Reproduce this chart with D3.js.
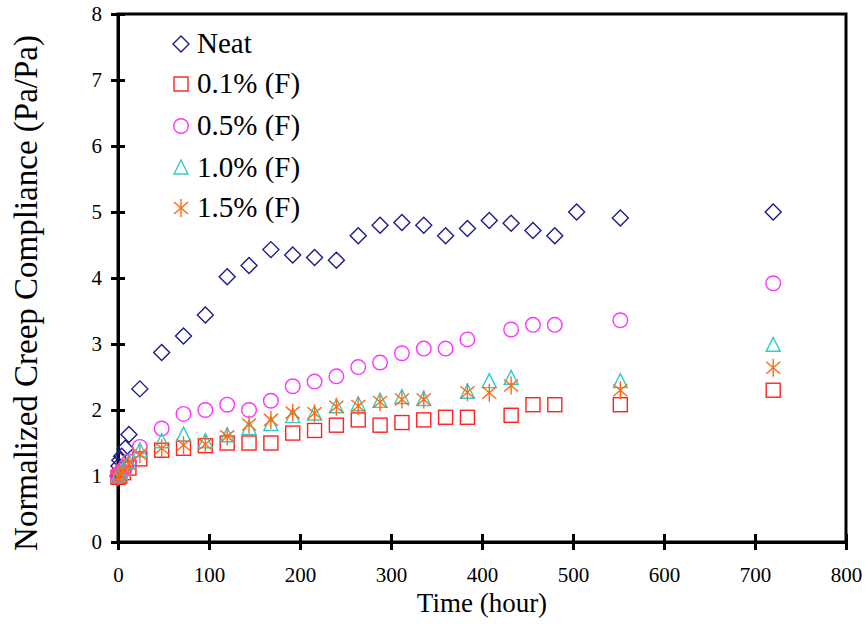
<!DOCTYPE html>
<html><head><meta charset="utf-8">
<script src="https://cdn.jsdelivr.net/npm/d3@7"></script>
<style>body{margin:0;background:#fff}svg{display:block}</style>
</head><body>
<script>
// Data
const neatT = [0,1,2,4,8,12,24,48,72,96,120,144,168,192,216,240,264,288,312,336,360,384,408,432,456,480,504,552,720];
const neatV = [1.0,1.15,1.24,1.3,1.42,1.63,2.32,2.87,3.12,3.44,4.02,4.19,4.43,4.35,4.31,4.27,4.64,4.80,4.84,4.80,4.64,4.75,4.87,4.83,4.72,4.64,5.0,4.91,5.0];
const f01T = [0,2,6,12,24,48,72,96,120,144,168,192,216,240,264,288,312,336,360,384,432,456,480,552,720];
const f01V = [0.98,1.0,1.05,1.12,1.26,1.39,1.42,1.46,1.50,1.50,1.50,1.65,1.69,1.77,1.85,1.77,1.81,1.85,1.89,1.89,1.92,2.08,2.08,2.08,2.30];
const f05T = [0,2,4,8,12,24,48,72,96,120,144,168,192,216,240,264,288,312,336,360,384,432,456,480,552,720];
const f05V = [1.0,1.04,1.08,1.14,1.22,1.44,1.72,1.94,2.0,2.08,2.0,2.14,2.36,2.43,2.51,2.65,2.72,2.86,2.93,2.93,3.07,3.22,3.29,3.29,3.36,3.92];
const f10T = [0,2,6,12,24,48,72,96,120,144,168,192,216,240,264,288,312,336,384,408,432,552,720];
const f10V = [1.0,1.04,1.1,1.2,1.38,1.52,1.62,1.52,1.61,1.72,1.78,1.90,1.94,2.05,2.08,2.13,2.19,2.16,2.27,2.43,2.48,2.43,2.98];
const f15T = [0,2,6,12,24,48,72,96,120,144,168,192,216,240,264,288,312,336,384,408,432,552,720];
const f15V = [0.98,1.02,1.08,1.18,1.33,1.42,1.47,1.48,1.60,1.78,1.85,1.96,1.95,2.05,2.06,2.12,2.16,2.16,2.27,2.26,2.37,2.30,2.64];
const seriesNames = ["Neat","0.1% (F)","0.5% (F)","1.0% (F)","1.5% (F)"];
const xTicks = [0,100,200,300,400,500,600,700,800];
const yTicks = [0,1,2,3,4,5,6,7,8];

const W = 868, H = 624;
const m = {l:118, r:22, t:14, b:82};
const svg = d3.select("body").append("svg").attr("width",W).attr("height",H);
const x = d3.scaleLinear().domain([0,800]).range([m.l, W-m.r]);
const y = d3.scaleLinear().domain([0,8]).range([H-m.b, m.t]);
const font = "'Liberation Serif','Times New Roman',serif";

const series = [
  {name:seriesNames[0], t:neatT, v:neatV, color:"#1c1c8a", shape:"diamond"},
  {name:seriesNames[1], t:f01T, v:f01V, color:"#ff2020", shape:"square"},
  {name:seriesNames[2], t:f05T, v:f05V, color:"#ff33ff", shape:"circle"},
  {name:seriesNames[3], t:f10T, v:f10V, color:"#33cccc", shape:"triangle"},
  {name:seriesNames[4], t:f15T, v:f15V, color:"#ff6a10", shape:"asterisk"}
];

function drawMarker(g, shape, color){
  g.attr("fill","none").attr("stroke",color).attr("stroke-width",1.4);
  if(shape==="diamond") g.append("path").attr("d","M0,-8L8,0L0,8L-8,0Z");
  else if(shape==="square") g.append("rect").attr("x",-7).attr("y",-7).attr("width",14).attr("height",14);
  else if(shape==="circle") g.append("circle").attr("r",7.3);
  else if(shape==="triangle") g.append("path").attr("d","M0,-8L7,6L-7,6Z");
  else if(shape==="asterisk") g.append("path").attr("d","M0,-9L0,9M-7,-6L7,6M-7,6L7,-6");
}

// frame
svg.append("rect").attr("x",m.l).attr("y",m.t).attr("width",W-m.r-m.l).attr("height",H-m.b-m.t)
  .attr("fill","none").attr("stroke","#000").attr("stroke-width",3);

// axes
const xAxis = d3.axisBottom(x).tickValues(xTicks).tickSizeInner(8).tickSizeOuter(0).tickPadding(17);
const gx = svg.append("g").attr("transform",`translate(0,${y(0)})`).call(xAxis);
gx.select(".domain").attr("stroke-width",3);
gx.selectAll(".tick line").attr("stroke-width",3).attr("y1",-8);
gx.selectAll(".tick text").attr("font-family",font).attr("font-size",21).attr("fill","#000");

const yAxis = d3.axisLeft(y).tickValues(yTicks).tickSizeInner(7).tickSizeOuter(0).tickPadding(9);
const gy = svg.append("g").attr("transform",`translate(${x(0)},0)`).call(yAxis);
gy.select(".domain").attr("stroke-width",3);
gy.selectAll(".tick line").attr("stroke-width",3).attr("x1",7);
gy.selectAll(".tick text").attr("font-family",font).attr("font-size",21).attr("fill","#000");

// titles
svg.append("text").attr("x",(x(0)+x(800))/2).attr("y",612).attr("text-anchor","middle")
  .attr("font-family",font).attr("font-size",27).text("Time (hour)");
svg.append("text").attr("transform",`translate(37,293) rotate(-90)`).attr("text-anchor","middle")
  .attr("font-family",font).attr("font-size",33).text("Normalized Creep Compliance (Pa/Pa)");

// points
series.forEach(s=>{
  const g = svg.append("g");
  s.t.forEach((t,i)=>{
    const mk = g.append("g").attr("transform",`translate(${x(t)},${y(s.v[i])})`);
    drawMarker(mk, s.shape, s.color);
  });
});

// legend
const legendY = [44,84,126,168,208];
series.forEach((s,i)=>{
  const ly = legendY[i];
  const mk = svg.append("g").attr("transform",`translate(181,${ly})`);
  drawMarker(mk, s.shape, s.color);
  svg.append("text").attr("x",197).attr("y",ly+9).attr("font-family",font).attr("font-size",29).text(s.name);
});
</script>
</body></html>
